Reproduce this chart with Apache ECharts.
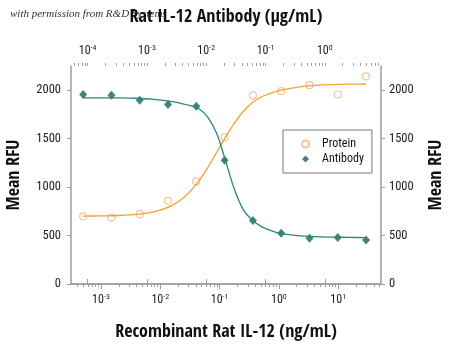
<!DOCTYPE html>
<html><head><meta charset="utf-8">
<script src="https://cdn.jsdelivr.net/npm/echarts@6/dist/echarts.min.js"></script>
<style>html,body{margin:0;padding:0;background:#fff}#c{width:450px;height:347px}</style>
</head><body><div id="c"></div>
<script>
// Measured points (ng/mL on the bottom axis)
const concentration = [0.0005, 0.0015, 0.0045, 0.0135, 0.0405, 0.1215, 0.3645, 1.0935, 3.2805, 9.8415, 29.5245];
const proteinRFU  = [697, 686, 721, 859, 1059, 1514, 1946, 1990, 2052, 1956, 2142];
const antibodyRFU = [1956, 1949, 1897, 1853, 1834, 1276, 655, 524, 473, 479, 455];

// Fitted curves
const fitConcentration = [0.0005, 0.001, 0.002, 0.004, 0.0079, 0.0112, 0.0158, 0.0224, 0.0316, 0.0447, 0.0631, 0.0891, 0.126, 0.178, 0.251, 0.355, 0.501, 0.708, 1, 2, 3.98, 7.94, 15.8, 29.5];
const proteinFit  = [701, 703, 707, 718, 745, 772, 811, 870, 953, 1064, 1201, 1357, 1516, 1661, 1780, 1871, 1930, 1965, 1995, 2030, 2050, 2058, 2062, 2064];
const antibodyFit = [1922, 1922, 1921, 1917, 1906, 1896, 1882, 1864, 1842, 1808, 1722, 1555, 1273, 975, 768, 660, 595, 555, 525, 500, 489, 484, 481, 479];

// Tick labels
const yTicks = [0, 500, 1000, 1500, 2000];
const bottomDecades = [0.001, 0.01, 0.1, 1, 10];
const topDecades = [0.0001, 0.001, 0.01, 0.1, 1];
const seriesNames = ['Protein', 'Antibody'];
const bottomTitle = 'Recombinant Rat IL-12 (ng/mL)';
const topTitle = 'Rat IL-12 Antibody (\u00b5g/mL)';
const yTitle = 'Mean RFU';

function minorTicks(from, to) {
  const out = [];
  for (let e = from; e <= to; e++) {
    for (let m = 1; m <= 9; m++) out.push(+(m * Math.pow(10, e)).toPrecision(3));
  }
  return out;
}

const FONT = "'Open Sans Condensed','Roboto Condensed',sans-serif";
const LFONT = "'Roboto Condensed','Open Sans Condensed',sans-serif";
const AXIS_COLOR = '#9d9d9d';
const ORANGE = '#f0a232';
const ORANGE_PT = '#f2b47c';
const TEAL = '#2a8677';
const TEAL_PT = '#0f6656';

const BX = [0.0003119, 52.72];
const TX = [0.00005236, 8.85];

function expLabel(v) {
  const e = Math.round(Math.log10(v));
  return '{b|10}{s|' + e + '}';
}
const richLab = {
  b: {fontSize: 12, fontFamily: LFONT, color: '#222'},
  s: {fontSize: 8, fontFamily: LFONT, color: '#222', verticalAlign: 'top', padding: [0, 0, 5, 0]}
};

const chart = echarts.init(document.getElementById('c'), null, {renderer: 'canvas'});
const nameStyle = {fontFamily: FONT, fontSize: 18, fontWeight: 'bold', color: '#111'};
const tickLab = {fontFamily: LFONT, fontSize: 12.5, color: '#222'};

chart.setOption({
  animation: false,
  backgroundColor: '#fff',
  graphic: [{
    type: 'text', left: 10, top: 9, z: -10,
    style: {text: 'with permission from R&D Systems', font: "italic 11px 'Liberation Serif', serif", fill: '#333'}
  }],
  grid: {left: 71, right: 69, top: 66, bottom: 63, containLabel: false, outerBoundsMode: 'none'},
  legend: {
    data: seriesNames,
    orient: 'vertical', left: 283, top: 130,
    padding: [8, 8, 8, 18], itemGap: 3, itemWidth: 7, itemHeight: 7,
    borderColor: '#777', borderWidth: 1,
    textStyle: {fontFamily: LFONT, fontSize: 12, color: '#111', padding: [0, 0, 0, 8]}
  },
  xAxis: [
    {
      type: 'log', position: 'bottom', min: BX[0], max: BX[1],
      name: bottomTitle, nameLocation: 'middle', nameGap: 39, nameTextStyle: nameStyle,
      axisLine: {show: true, lineStyle: {color: AXIS_COLOR, width: 1.5}},
      axisTick: {show: true, length: 5, customValues: bottomDecades, lineStyle: {color: AXIS_COLOR}},
      axisLabel: {customValues: bottomDecades, formatter: expLabel, rich: richLab, margin: 9},
      splitLine: {show: false}, minorTick: {show: false}
    },
    {
      type: 'log', position: 'top', min: TX[0], max: TX[1],
      name: topTitle, nameLocation: 'middle', nameGap: 40, nameTextStyle: nameStyle,
      axisLine: {show: true, lineStyle: {color: AXIS_COLOR, width: 1.5}},
      axisTick: {show: true, length: 5, customValues: topDecades, lineStyle: {color: AXIS_COLOR}},
      axisLabel: {customValues: topDecades, formatter: expLabel, rich: richLab, margin: 9},
      splitLine: {show: false}
    },
    {
      type: 'log', position: 'bottom', min: BX[0], max: BX[1],
      axisLine: {show: false},
      axisTick: {show: true, length: 3, customValues: minorTicks(-4, 1), lineStyle: {color: AXIS_COLOR}},
      axisLabel: {show: false}, splitLine: {show: false}
    },
    {
      type: 'log', position: 'top', min: TX[0], max: TX[1],
      axisLine: {show: false},
      axisTick: {show: true, length: 3, customValues: minorTicks(-5, 0), lineStyle: {color: AXIS_COLOR}},
      axisLabel: {show: false}, splitLine: {show: false}
    }
  ],
  yAxis: [
    {
      type: 'value', position: 'left', min: 0, max: 2250,
      name: yTitle, nameLocation: 'middle', nameGap: 48, nameTextStyle: nameStyle,
      axisLine: {show: true, lineStyle: {color: AXIS_COLOR, width: 1.5}},
      axisTick: {show: true, length: 4, customValues: yTicks, lineStyle: {color: AXIS_COLOR}},
      axisLabel: Object.assign({customValues: yTicks, formatter: v => String(v), margin: 10}, tickLab),
      splitLine: {show: false}
    },
    {
      type: 'value', position: 'right', min: 0, max: 2250,
      name: yTitle, nameLocation: 'middle', nameGap: 46, nameTextStyle: nameStyle,
      axisLine: {show: true, lineStyle: {color: AXIS_COLOR, width: 1.5}},
      axisTick: {show: true, length: 4, customValues: yTicks, lineStyle: {color: AXIS_COLOR}},
      axisLabel: Object.assign({customValues: yTicks, formatter: v => String(v), margin: 8}, tickLab),
      splitLine: {show: false}
    }
  ],
  series: [
    {
      name: 'Protein fit', type: 'line', xAxisIndex: 0, yAxisIndex: 0,
      data: fitConcentration.map((c, i) => [c, proteinFit[i]]),
      smooth: 0.3, showSymbol: false, lineStyle: {color: ORANGE, width: 1.3}, silent: true
    },
    {
      name: 'Antibody fit', type: 'line', xAxisIndex: 0, yAxisIndex: 0,
      data: fitConcentration.map((c, i) => [c, antibodyFit[i]]),
      smooth: 0.3, showSymbol: false, lineStyle: {color: TEAL, width: 1.3}, silent: true
    },
    {
      name: seriesNames[0], type: 'scatter', xAxisIndex: 0, yAxisIndex: 0,
      data: concentration.map((c, i) => [c, proteinRFU[i]]),
      symbol: 'circle', symbolSize: 7,
      itemStyle: {color: '#fff', borderColor: ORANGE_PT, borderWidth: 1.2}
    },
    {
      name: seriesNames[1], type: 'scatter', xAxisIndex: 0, yAxisIndex: 0,
      data: concentration.map((c, i) => [c, antibodyRFU[i]]),
      symbol: 'diamond', symbolSize: [8, 9],
      itemStyle: {color: TEAL_PT}
    }
  ]
});
</script>
</body></html>
